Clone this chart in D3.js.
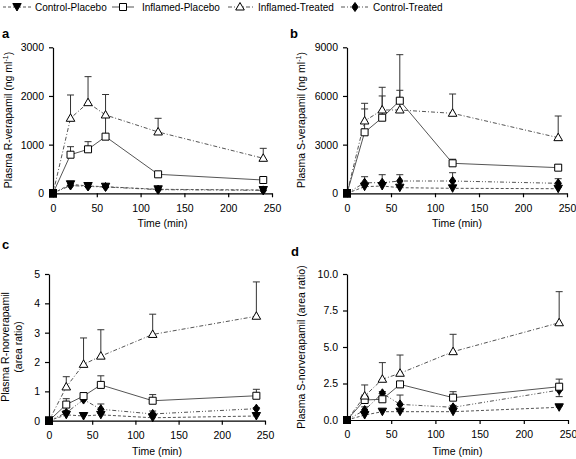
<!DOCTYPE html>
<html><head><meta charset="utf-8">
<script src="https://cdn.jsdelivr.net/npm/d3@7"></script>
<style>body{margin:0;background:#fff}svg{display:block}text{font-family:"Liberation Sans",Arial,sans-serif}</style>
</head><body><svg id="c" width="576" height="459"></svg>
<script>
const times = [0, 20, 40, 60, 120, 240];
const seriesNames = ["Control-Placebo", "Inflamed-Placebo", "Inflamed-Treated", "Control-Treated"];
const xTicks = [0, 50, 100, 150, 200, 250];

// Panel a: Plasma R-verapamil (ng/ml)
const aCP = [0, 185, 150, 135, 82, 68];
const aCPerr = [0, 230, 190, 170, 110, 95];
const aIP = [0, 793, 904, 1164, 390, 273];
const aIPerr = [0, 958, 1061, 1560, 420, 310];
const aIT = [0, 1541, 1862, 1609, 1260, 719];
const aITerr = [0, 2020, 2397, 2030, 1541, 924];
const aCT = [0, 160, 140, 130, 75, 60];
const aCTerr = [0, 200, 175, 160, 100, 85];
const aTicks = [0, 1000, 2000, 3000];

// Panel b: Plasma S-verapamil (ng/ml)
const bCP = [0, 407, 450, 345, 308, 283];
const bCPerr = [0, 550, 600, 450, 400, 350];
const bIP = [0, 3760, 4660, 5708, 1849, 1580];
const bIPerr = [0, 5200, 6000, 6350, 2100, 1765];
const bIT = [0, 4457, 5135, 5135, 4932, 3430];
const bITerr = [0, 5548, 6535, 8545, 6121, 4765];
const bCT = [0, 653, 650, 758, 758, 616];
const bCTerr = [0, 1023, 1147, 1147, 1270, 900];
const bTicks = [0, 3000, 6000, 9000];

// Panel c: Plasma R-norverapamil (area ratio)
const cCP = [0, 0.2, 0.16, 0.2, 0.1, 0.16];
const cCPerr = [0, 0.28, 0.2, 0.25, 0.25, 0.2];
const cIP = [0, 0.55, 0.84, 1.22, 0.68, 0.85];
const cIPerr = [0, 0.75, 0.9, 1.53, 0.89, 1.07];
const cIT = [0, 1.15, 1.92, 2.2, 2.94, 3.56];
const cITerr = [0, 1.5, 2.82, 3.1, 3.63, 4.73];
const cCT = [0, 0.27, 0.72, 0.39, 0.23, 0.41];
const cCTerr = [0, 0.35, 0.8, 0.57, 0.33, 0.45];
const cTicks = [0, 1, 2, 3, 4, 5];

// Panel d: Plasma S-norverapamil (area ratio)
const dCP = [0, 0.34, 0.57, 0.57, 0.57, 0.87];
const dCPerr = [0, 0.5, 0.65, 0.7, 0.7, 0.95];
const dIP = [0, 1.37, 1.42, 2.44, 1.53, 2.28];
const dIPerr = [0, 1.7, 1.5, 2.6, 1.94, 2.8];
const dIT = [0, 1.64, 2.79, 3.2, 4.68, 6.66];
const dITerr = [0, 2.4, 3.93, 4.45, 5.87, 8.79];
const dCT = [0, 0.68, 1.83, 1.07, 0.87, 2.05];
const dCTerr = [0, 0.9, 1.95, 1.71, 1.0, 1.6];
const dTicks = [0, 2.5, 5, 7.5, 10];

const styles = {
  "Control-Placebo": {dash: "3,2", sym: "down", fill: "#000"},
  "Inflamed-Placebo": {dash: null, sym: "square", fill: "#fff"},
  "Inflamed-Treated": {dash: "4,2,1,2", sym: "tri", fill: "#fff"},
  "Control-Treated": {dash: "4,2,1,2,1,2", sym: "diamond", fill: "#000"}
};

const panels = [
  {letter: "a", lx: 2, ly: 38, x0: 53, x1: 272, yb: 193.3, yt: 47.3, max: 3000, ticks: aTicks, fmt: d3.format("d"),
   title: ["Plasma R-verapamil (ng ml", "-1", ")"], tx: 12, ty: 120, xl: 227,
   s: {"Control-Treated": [aCT, aCTerr], "Control-Placebo": [aCP, aCPerr], "Inflamed-Placebo": [aIP, aIPerr], "Inflamed-Treated": [aIT, aITerr]}},
  {letter: "b", lx: 290, ly: 38, x0: 347, x1: 567, yb: 193.3, yt: 47.3, max: 9000, ticks: bTicks, fmt: d3.format("d"),
   title: ["Plasma S-verapamil (ng ml", "-1", ")"], tx: 305, ty: 120, xl: 227,
   s: {"Control-Treated": [bCT, bCTerr], "Control-Placebo": [bCP, bCPerr], "Inflamed-Placebo": [bIP, bIPerr], "Inflamed-Treated": [bIT, bITerr]}},
  {letter: "c", lx: 2, ly: 249, x0: 49, x1: 265, yb: 420.7, yt: 274, max: 5, ticks: cTicks, fmt: d3.format("d"),
   title2: ["Plasma R-norverapamil", "(area ratio)"], tx: 9, ty: 347, xl: 455,
   s: {"Control-Treated": [cCT, cCTerr], "Control-Placebo": [cCP, cCPerr], "Inflamed-Placebo": [cIP, cIPerr], "Inflamed-Treated": [cIT, cITerr]}},
  {letter: "d", lx: 291, ly: 256, x0: 347, x1: 568, yb: 420, yt: 274, max: 10, ticks: dTicks, fmt: d3.format(".1f"),
   title1: "Plasma S-norverapamil (area ratio)", tx: 305, ty: 347, xl: 455,
   s: {"Control-Treated": [dCT, dCTerr], "Control-Placebo": [dCP, dCPerr], "Inflamed-Placebo": [dIP, dIPerr], "Inflamed-Treated": [dIT, dITerr]}}
];

const svg = d3.select("#c");
const lineCol = "#555";

const shapes = {
  square: "M-3.5,-3.5H3.5V3.5H-3.5Z",
  tri: "M0,-4.5L4.3,3L-4.3,3Z",
  down: "M0,4L4.2,-3.5L-4.2,-3.5Z",
  diamond: "M0,-4.5L3.2,0L0,4.5L-3.2,0Z"
};

function marker(g, type, fill, x, y) {
  return g.append("path").attr("d", shapes[type]).attr("fill", fill)
    .attr("stroke", "#000").attr("stroke-width", 1)
    .attr("transform", `translate(${x},${y})`);
}

panels.forEach(P => {
  const x = d3.scaleLinear().domain([0, 250]).range([P.x0, P.x1]);
  const y = d3.scaleLinear().domain([0, P.max]).range([P.yb, P.yt]);
  const g = svg.append("g");

  const ax = g.append("g").attr("transform", `translate(0,${P.yb})`)
    .call(d3.axisBottom(x).tickValues(xTicks).tickSize(4).tickSizeOuter(0).tickPadding(7));
  const ay = g.append("g").attr("transform", `translate(${P.x0},0)`)
    .call(d3.axisLeft(y).tickValues(P.ticks).tickFormat(P.fmt).tickSize(4).tickSizeOuter(0).tickPadding(5));
  [ax, ay].forEach(a => {
    a.selectAll("path,line").attr("stroke", "#000").attr("stroke-width", 1.2);
    a.selectAll("text").attr("font-size", 10.5).attr("fill", "#000").attr("font-family", '"Liberation Sans",Arial,sans-serif');
  });

  g.append("text").attr("x", (P.x0 + P.x1) / 2).attr("y", P.xl).attr("text-anchor", "middle")
    .attr("font-size", 10.5).text("Time (min)");
  g.append("text").attr("x", P.lx).attr("y", P.ly).attr("font-size", 13).attr("font-weight", "bold").text(P.letter);

  if (P.title) {
    const t = g.append("text").attr("transform", `translate(${P.tx},${P.ty}) rotate(-90)`)
      .attr("text-anchor", "middle").attr("font-size", 10.5);
    t.append("tspan").text(P.title[0]);
    t.append("tspan").attr("font-size", 7).attr("dy", -4).text(P.title[1]);
    t.append("tspan").attr("dy", 4).text(P.title[2]);
  } else if (P.title2) {
    P.title2.forEach((s, i) => g.append("text").attr("transform", `translate(${P.tx + i * 13},${P.ty}) rotate(-90)`)
      .attr("text-anchor", "middle").attr("font-size", 10.5).text(s));
  } else {
    g.append("text").attr("transform", `translate(${P.tx},${P.ty}) rotate(-90)`)
      .attr("text-anchor", "middle").attr("font-size", 10.5).text(P.title1);
  }

  const order = ["Control-Treated", "Control-Placebo", "Inflamed-Placebo", "Inflamed-Treated"];
  const line = d3.line().x((d, i) => x(times[i])).y(d => y(d));
  order.forEach(name => {
    const st = styles[name];
    g.append("path").datum(P.s[name][0]).attr("d", line).attr("fill", "none")
      .attr("stroke", lineCol).attr("stroke-width", 1).attr("stroke-dasharray", st.dash);
  });
  order.forEach(name => {
    const [v, e] = P.s[name];
    v.forEach((val, i) => {
      if (i === 0) return;
      const cx = x(times[i]);
      g.append("line").attr("x1", cx).attr("x2", cx).attr("y1", y(val)).attr("y2", y(e[i]))
        .attr("stroke", "#333").attr("stroke-width", 1);
      g.append("line").attr("x1", cx - 3.5).attr("x2", cx + 3.5).attr("y1", y(e[i])).attr("y2", y(e[i]))
        .attr("stroke", "#333").attr("stroke-width", 1);
    });
  });
  order.forEach(name => {
    const st = styles[name];
    P.s[name][0].forEach((val, i) => {
      if (i === 0) {
        g.append("rect").attr("x", x(times[i]) - 4).attr("y", y(val) - 4).attr("width", 8).attr("height", 8).attr("fill", "#000");
      } else {
        marker(g, st.sym, st.fill, x(times[i]), y(val));
      }
    });
  });
});

const legend = [
  {name: "Control-Placebo", x1: 3, x2: 31, mx: 17, tx: 35},
  {name: "Inflamed-Placebo", x1: 112, x2: 134, mx: 123, tx: 142},
  {name: "Inflamed-Treated", x1: 228, x2: 254, mx: 240, tx: 258},
  {name: "Control-Treated", x1: 341, x2: 368, mx: 355, tx: 373}
];
const lg = svg.append("g");
legend.forEach(L => {
  const st = styles[L.name];
  lg.append("line").attr("x1", L.x1).attr("x2", L.x2).attr("y1", 7).attr("y2", 7)
    .attr("stroke", lineCol).attr("stroke-width", 1).attr("stroke-dasharray", st.dash);
  marker(lg, st.sym, st.fill, L.mx, 7);
  lg.append("text").attr("x", L.tx).attr("y", 10.5).attr("font-size", 10).text(L.name);
});
</script></body></html>
